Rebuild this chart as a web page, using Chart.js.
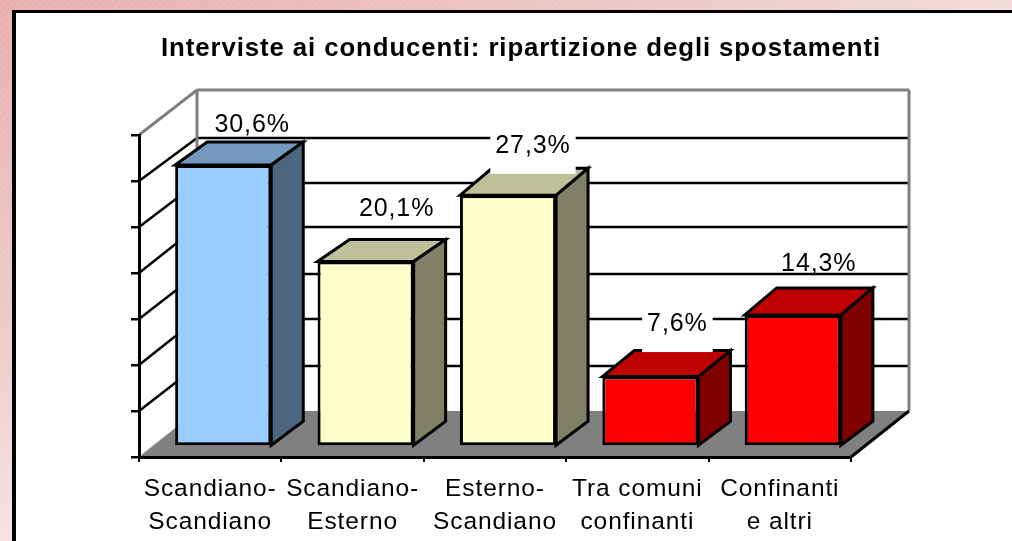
<!DOCTYPE html>
<html>
<head>
<meta charset="utf-8">
<script src="https://cdn.jsdelivr.net/npm/chart.js@4"></script>
<style>
  html, body { margin: 0; height: 100%; overflow: hidden; }
  body {
    background:
      repeating-linear-gradient(135deg, rgba(255,255,255,.08) 0 2px, transparent 2px 5px),
      linear-gradient(155deg, #e8aeae 0%, #eecccc 35%, #fbf6f5 70%, #ffffff 100%);
  }
  #panel {
    position: absolute; left: 12px; top: 10px; right: -10px; bottom: -10px;
    background: #fff; border-left: 4px solid #000; border-top: 3px solid #000;
  }
  canvas { position: absolute; left: 0; top: 0; }
</style>
</head>
<body>
<div id="panel"></div>
<canvas id="chart" width="1012" height="541"></canvas>
<script>
const categories = [
  ["Scandiano-", "Scandiano"],
  ["Scandiano-", "Esterno"],
  ["Esterno-", "Scandiano"],
  ["Tra comuni", "confinanti"],
  ["Confinanti", "e altri"]
];
const values = [30.6, 20.1, 27.3, 7.6, 14.3];
const valueLabels = ["30,6%", "20,1%", "27,3%", "7,6%", "14,3%"];
const titleText = "Interviste ai conducenti: ripartizione degli spostamenti";

const frontColors = ["#99CCFF", "#FFFFCC", "#FFFFCC", "#FF0000", "#FF0000"];
const topColors = ["#7399BF", "#BFBF99", "#BFBF99", "#BF0000", "#BF0000"];
const sideColors = ["#4D6680", "#808066", "#808066", "#800000", "#800000"];

// how the 3D box sits on the floor
const wallDepthX = 58;
const wallRise = [46, 45, 46, 45, 46, 44, 43, 45]; // per tick, bottom to top
const barShift = { x: 13, y: 10.5 };
const barDepthX = 32;
const barDepthY = [23, 22, 27, 26, 27];

// where the labels sit relative to the bar, only 3 and 4 blank the lines behind them
const labelDx = [42, 44, 38, 40, 39];
const labelDy = [-50, -63, -60, -63, -61];
const labelMask = [false, false, true, true, false];

const GREY = "#808080";

function poly(ctx, pts, fill) {
  ctx.beginPath();
  pts.forEach((p, i) => (i ? ctx.lineTo(p[0], p[1]) : ctx.moveTo(p[0], p[1])));
  ctx.closePath();
  ctx.fillStyle = fill;
  ctx.fill();
}

function line(ctx, x1, y1, x2, y2, color, width) {
  ctx.beginPath();
  ctx.moveTo(x1, y1);
  ctx.lineTo(x2, y2);
  ctx.strokeStyle = color;
  ctx.lineWidth = width;
  ctx.stroke();
}

const box3d = {
  id: "box3d",
  // walls and floor go under the axes
  beforeDraw(chart) {
    const { ctx, chartArea: a, scales } = chart;
    const dx = wallDepthX;
    const floorY = a.bottom - wallRise[0];
    const topY = a.top - wallRise[7];
    ctx.letterSpacing = "0.9px"; // stays on for title and tick labels
    ctx.save();
    poly(ctx, [[a.left, a.bottom], [a.left + dx, floorY], [a.right + dx, floorY], [a.right, a.bottom]], GREY);
    scales.y.ticks.forEach((t, i) => {
      if (i === 0) return;
      const y = scales.y.getPixelForValue(t.value);
      const top = i === scales.y.ticks.length - 1;
      const c = top ? GREY : "#000";
      const w = top ? 3 : 2.5;
      line(ctx, a.left, y, a.left + dx, y - wallRise[i], c, w);
      line(ctx, a.left + dx, y - wallRise[i], a.right + dx, y - wallRise[i], c, w);
    });
    line(ctx, a.left + dx, topY, a.left + dx, floorY, GREY, 3);
    line(ctx, a.right + dx, topY, a.right + dx, floorY, GREY, 3);
    line(ctx, a.left, a.bottom, a.left + dx, floorY, "#a0a0a0", 1);
    line(ctx, a.right, a.bottom, a.right + dx, floorY, "#000", 3);
    ctx.restore();
  },
  // the library draws the front face, shifted back onto the floor
  beforeDatasetDraw(chart, args) {
    const ctx = chart.ctx;
    ctx.save();
    ctx.translate(barShift.x, -barShift.y);
    chart.getDatasetMeta(args.index).data.forEach((bar, i) => {
      const l = bar.x - bar.width / 2, r = bar.x + bar.width / 2;
      const top = bar.y, base = bar.base, d = barDepthY[i];
      ctx.lineWidth = 3;
      ctx.strokeStyle = "#000";
      ctx.lineJoin = "miter";
      poly(ctx, [[l, top], [l + barDepthX, top - d], [r + barDepthX, top - d], [r, top]], topColors[i]);
      ctx.stroke();
      poly(ctx, [[r, top], [r + barDepthX, top - d], [r + barDepthX, base - 24], [r, base]], sideColors[i]);
      ctx.stroke();
    });
  },
  afterDatasetDraw(chart) {
    chart.ctx.restore();
  },
  afterDatasetsDraw(chart) {
    const ctx = chart.ctx;
    ctx.save();
    ctx.font = "25px 'Liberation Sans'";
    ctx.textAlign = "center";
    ctx.textBaseline = "middle";
    chart.getDatasetMeta(0).data.forEach((bar, i) => {
      const x = bar.x + labelDx[i], y = bar.y + labelDy[i];
      if (labelMask[i]) {
        const w = ctx.measureText(valueLabels[i]).width + 10;
        ctx.fillStyle = "#fff";
        ctx.fillRect(x - w / 2, y - 13, w, 41);
      }
      ctx.fillStyle = "#000";
      ctx.fillText(valueLabels[i], x, y);
    });
    ctx.restore();
  },
  // title is centred on the picture's panel, not on the plot
  afterLayout(chart) {
    chart.titleBlock.left += 30;
    chart.titleBlock.right += 30;
  }
};

new Chart(document.getElementById("chart"), {
  type: "bar",
  data: {
    labels: categories,
    datasets: [{
      data: values,
      backgroundColor: frontColors,
      borderColor: "#000",
      borderWidth: 3,
      borderSkipped: false,
      barPercentage: 0.675,
      categoryPercentage: 1,
      clip: false
    }]
  },
  options: {
    responsive: false,
    animation: false,
    layout: { padding: { left: 131, right: 161, top: 0, bottom: 0 } },
    plugins: {
      legend: { display: false },
      tooltip: { enabled: false },
      title: {
        display: true,
        text: titleText,
        color: "#000",
        font: { family: "'Liberation Sans'", size: 26, weight: "bold", lineHeight: 1.2 },
        padding: { top: 33, bottom: 70.8 }
      }
    },
    scales: {
      x: {
        offset: true,
        border: { color: "#000", width: 3 },
        grid: { drawOnChartArea: false, color: "#000", lineWidth: 2, tickLength: 5 },
        ticks: {
          color: "#000",
          maxRotation: 0,
          autoSkip: false,
          padding: 11,
          font: { family: "'Liberation Sans'", size: 24.5, lineHeight: 1.35 }
        },
        afterFit(s) { s.height = 84; }
      },
      y: {
        min: 0,
        max: 35,
        border: { color: "#000", width: 3 },
        grid: { drawOnChartArea: false, color: "#000", lineWidth: 2.5, tickLength: 8 },
        ticks: { stepSize: 5, display: false },
        afterFit(s) { s.width = 8; }
      }
    }
  },
  plugins: [box3d]
});
</script>
</body>
</html>
